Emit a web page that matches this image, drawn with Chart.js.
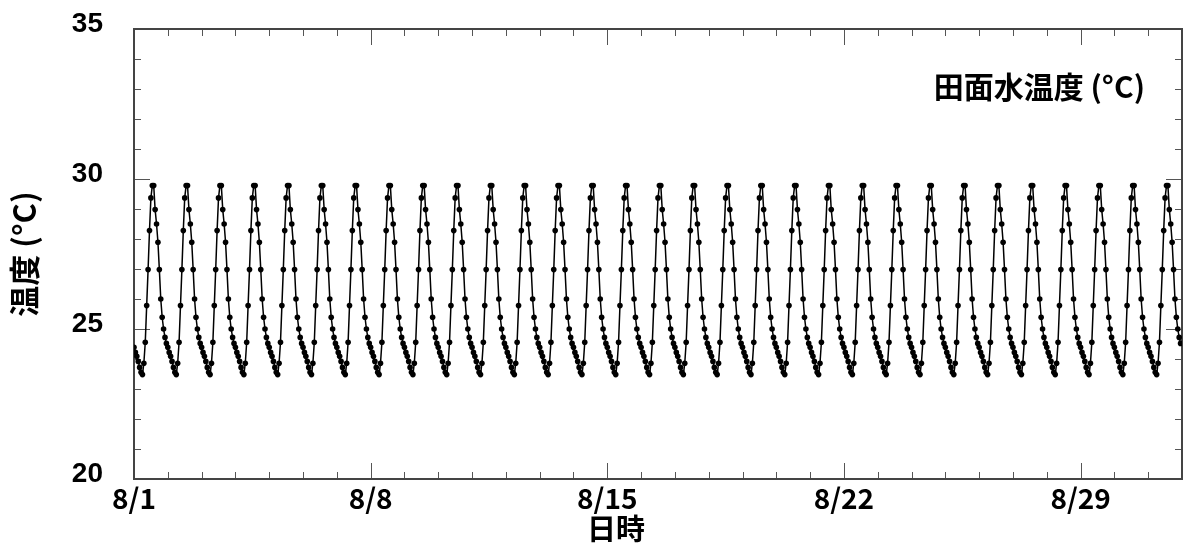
<!DOCTYPE html>
<html>
<head>
<meta charset="utf-8">
<script src="https://cdn.jsdelivr.net/npm/chart.js@4.4.1/dist/chart.umd.min.js"></script>
<style>
  html, body { margin: 0; padding: 0; background: #fff; }
</style>
</head>
<body>
<canvas id="chart" width="1186" height="547"></canvas>
<script>
// 1日分の毎時水温 (0時〜23時)
const hourlyTemp = [24.39, 24.22, 24.09, 23.92, 23.72, 23.56, 23.48, 23.86,
                    24.56, 25.78, 26.98, 28.28, 29.37, 29.78, 29.78, 28.98,
                    28.50, 27.89, 26.98, 26.00, 25.39, 25.00, 24.72, 24.52];
const dayCount = 31;   // 8/1〜8/31

// 目盛ラベル
const dateLabels = ["8/1", "8/8", "8/15", "8/22", "8/29"];
const dateTickHours = [0, 168, 336, 504, 672];
const tempTicks = [20, 25, 30, 35];

const seriesName = "田面水温度 (°C)";

const jpFont = "'Noto Sans CJK JP', 'Noto Sans', sans-serif";
const numFont = "'Liberation Sans', Arial, sans-serif";

// 毎時データ (x = 8/1 0時からの経過時間)
const points = [];
for (let d = 0; d < dayCount; d++) {
    hourlyTemp.forEach((t, h) => points.push({ x: d * 24 + h, y: t }));
}

// 枠と内向きの目盛、凡例文字、x軸タイトル
const framePlugin = {
    id: "frame",
    beforeDatasetsDraw(chart) {
        const { ctx, chartArea: a, scales } = chart;
        ctx.save();
        ctx.strokeStyle = "#555";
        ctx.lineWidth = 1;
        // x方向: 1日ごと
        for (let h = 0; h <= dayCount * 24; h += 24) {
            const px = Math.round(scales.x.getPixelForValue(h)) + 0.5;
            const len = h % 168 === 0 ? 16 : 7;
            ctx.beginPath();
            ctx.moveTo(px, a.bottom); ctx.lineTo(px, a.bottom - len);
            ctx.moveTo(px, a.top); ctx.lineTo(px, a.top + len);
            ctx.stroke();
        }
        // y方向: 1℃ごと
        for (let v = 20; v <= 35; v++) {
            const py = Math.round(scales.y.getPixelForValue(v)) + 0.5;
            const len = v % 5 === 0 ? 16 : 7;
            ctx.beginPath();
            ctx.moveTo(a.left, py); ctx.lineTo(a.left + len, py);
            ctx.moveTo(a.right, py); ctx.lineTo(a.right - len, py);
            ctx.stroke();
        }
        ctx.strokeStyle = "#444";
        ctx.lineWidth = 2;
        ctx.strokeRect(a.left, a.top, a.right - a.left, a.bottom - a.top);
        ctx.restore();
    },
    afterDraw(chart) {
        const { ctx, chartArea: a } = chart;
        ctx.save();
        ctx.fillStyle = "#000";
        ctx.textBaseline = "middle";
        ctx.font = "bold 30px " + jpFont;
        ctx.textAlign = "right";
        ctx.fillText(seriesName, a.right - 37, a.top + 58);
        ctx.font = "bold 29px " + jpFont;
        ctx.textAlign = "center";
        ctx.fillText("日時", 616, 529);
        ctx.restore();
    }
};

new Chart(document.getElementById("chart"), {
    type: "line",
    data: {
        datasets: [{
            label: seriesName,
            data: points,
            borderColor: "#000",
            borderWidth: 1.5,
            backgroundColor: "#000",
            pointRadius: 2.8,
            pointBorderWidth: 0,
            pointBackgroundColor: "#000",
            tension: 0
        }]
    },
    options: {
        responsive: false,
        animation: false,
        layout: { padding: { top: 29, right: 1, left: 0, bottom: 0 } },
        plugins: {
            legend: { display: false },
            tooltip: { enabled: false }
        },
        scales: {
            x: {
                type: "linear",
                min: 0,
                max: dayCount * 24,
                afterBuildTicks: s => { s.ticks = dateTickHours.map(v => ({ value: v })); },
                afterFit: s => { s.height = 68; },
                grid: { display: false, drawTicks: false },
                border: { display: false },
                ticks: {
                    callback: v => dateLabels[dateTickHours.indexOf(v)],
                    autoSkip: false,
                    maxRotation: 0,
                    padding: 3,
                    color: "#000",
                    font: { family: jpFont, size: 28, weight: "bold" }
                }
            },
            y: {
                min: 20,
                max: 35,
                afterBuildTicks: s => { s.ticks = tempTicks.map(v => ({ value: v })); },
                afterFit: s => {
                    s.width = 134;
                    s.paddingTop = 0;
                    s.paddingBottom = 0;
                },
                grid: { display: false, drawTicks: false },
                border: { display: false },
                ticks: {
                    padding: 31,
                    labelOffset: -5,
                    color: "#000",
                    font: { family: numFont, size: 28, weight: "bold" }
                },
                title: {
                    display: true,
                    text: "温度 (°C)",
                    color: "#000",
                    padding: { top: 6, bottom: 0 },
                    font: { family: jpFont, size: 31, weight: "bold" }
                }
            }
        }
    },
    plugins: [framePlugin]
});
</script>
</body>
</html>
